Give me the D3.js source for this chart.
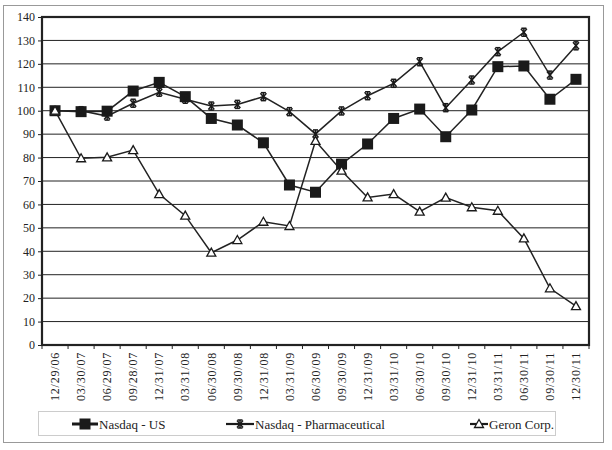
<!DOCTYPE html>
<html><head><meta charset="utf-8">
<script src="https://cdn.jsdelivr.net/npm/d3@7"></script>
<style>
body{margin:0;background:#fff;}
</style></head>
<body><svg id="chart" width="612" height="450" font-family="'Liberation Serif','DejaVu Serif',serif"></svg>
<script>
const dates = ["12/29/06","03/30/07","06/29/07","09/28/07","12/31/07","03/31/08","06/30/08","09/30/08","12/31/08","03/31/09","06/30/09","09/30/09","12/31/09","03/31/10","06/30/10","09/30/10","12/31/10","03/31/11","06/30/11","09/30/11","12/30/11"];
const nasdaqUS = [100,99.6,99.8,108.4,112.1,106,96.7,93.9,86.3,68.3,65.2,77.2,85.8,96.7,100.7,88.9,100.3,118.8,119.1,104.9,113.4];
const nasdaqPharma = [100,100,97.7,103.2,107.9,104.9,102,102.7,106,99.6,90.1,99.9,106.4,111.7,120.9,101.3,113.1,125.2,133.5,115.2,127.7];
const geron = [100,79.7,80.1,83.2,64.4,55.2,39.4,44.8,52.6,50.8,87.1,74.4,63,64.4,56.9,62.9,58.8,57.3,45.5,24.2,16.6];
const yTicks = [0,10,20,30,40,50,60,70,80,90,100,110,120,130,140];
const seriesNames = ["Nasdaq - US","Nasdaq - Pharmaceutical","Geron Corp."];

const FONT = "'Liberation Serif','DejaVu Serif',serif";
const svg = d3.select("#chart");
const L=42, R=589, T=17, B=345;

// outer frame
svg.append("rect").attr("x",3.5).attr("y",5.5).attr("width",600).attr("height",437)
  .attr("fill","#fff").attr("stroke","#999").attr("stroke-width",1);

const x = d3.scaleBand().domain(dates).range([L,R]).padding(0);
const y = d3.scaleLinear().domain([0,140]).range([B,T]);
const cx = d => x(d)+x.bandwidth()/2;

// gridlines
svg.append("g").selectAll("line").data(yTicks.filter(v=>v>0&&v<140)).join("line")
  .attr("x1",L).attr("x2",R).attr("y1",d=>y(d)).attr("y2",d=>y(d))
  .attr("stroke","#222").attr("stroke-width",1);

// y axis
const ya = svg.append("g").attr("transform",`translate(${L},0)`)
  .call(d3.axisLeft(y).tickValues(yTicks).tickSize(4).tickPadding(3).tickFormat(d3.format("d")));
ya.attr("font-family",FONT).attr("font-size",12);
ya.select(".domain").remove();
ya.selectAll("line").attr("stroke","#222");
ya.selectAll("text").attr("fill","#222");

// x axis ticks at category boundaries
const bounds = dates.map(d=>x(d)).concat([R]);
svg.append("g").selectAll("line").data(bounds).join("line")
  .attr("x1",d=>d).attr("x2",d=>d).attr("y1",B).attr("y2",B+4)
  .attr("stroke","#222").attr("stroke-width",1);
svg.append("g").attr("font-family",FONT).selectAll("text").data(dates).join("text")
  .attr("transform",d=>`translate(${cx(d)},${B+7}) rotate(-90)`)
  .attr("text-anchor","end").attr("dy","0.35em").attr("fill","#222")
  .attr("font-size",12).attr("letter-spacing","0.8px").text(d=>d);

// plot border
svg.append("rect").attr("x",L).attr("y",T).attr("width",R-L).attr("height",B-T)
  .attr("fill","none").attr("stroke","#222").attr("stroke-width",2.2);

const line = d3.line().x((d,i)=>cx(dates[i])).y(d=>y(d));
const data = [nasdaqUS,nasdaqPharma,geron];

data.forEach((s,k)=>{
  svg.append("path").datum(s).attr("d",line).attr("fill","none")
    .attr("stroke","#222").attr("stroke-width",1.5);
});

function marker(g,k,px,py){
  if(k===0){
    g.append("rect").attr("x",px-5.5).attr("y",py-5.5).attr("width",11).attr("height",11).attr("fill","#1a1a1a");
  } else if(k===1){
    const a=g.append("g").attr("transform",`translate(${px},${py})`).attr("stroke","#1a1a1a").attr("stroke-width",1.5);
    a.append("line").attr("x1",0).attr("x2",0).attr("y1",-4).attr("y2",4);
    a.append("line").attr("x1",-3).attr("x2",3).attr("y1",-3.5).attr("y2",3.5);
    a.append("line").attr("x1",-3).attr("x2",3).attr("y1",3.5).attr("y2",-3.5);
    a.append("line").attr("x1",-2.5).attr("x2",2.5).attr("y1",-4).attr("y2",-4);
    a.append("line").attr("x1",-2.5).attr("x2",2.5).attr("y1",4).attr("y2",4);
  } else {
    g.append("path").attr("d",`M${px},${py-4.5}L${px+4.5},${py+3.5}L${px-4.5},${py+3.5}Z`)
      .attr("fill","#fff").attr("stroke","#1a1a1a").attr("stroke-width",1.3);
  }
}
data.forEach((s,k)=>{
  const g=svg.append("g");
  s.forEach((v,i)=>marker(g,k,cx(dates[i]),y(v)));
});

// legend
svg.append("rect").attr("x",38.5).attr("y",411.5).attr("width",517).attr("height",24)
  .attr("fill","#fff").attr("stroke","#ccc").attr("stroke-width",1);
const lx=[72,226,470], lw=[26,28,18], lsw=[3,2.2,2.2];
seriesNames.forEach((n,k)=>{
  const g=svg.append("g");
  g.append("line").attr("x1",lx[k]).attr("x2",lx[k]+lw[k]).attr("y1",424).attr("y2",424)
    .attr("stroke","#1a1a1a").attr("stroke-width",lsw[k]);
  marker(g,k,lx[k]+lw[k]/2,424);
  g.append("text").attr("x",lx[k]+lw[k]+1).attr("y",428.5).attr("font-family",FONT)
    .attr("font-size",13).attr("fill","#222").text(n);
});
</script></body></html>
